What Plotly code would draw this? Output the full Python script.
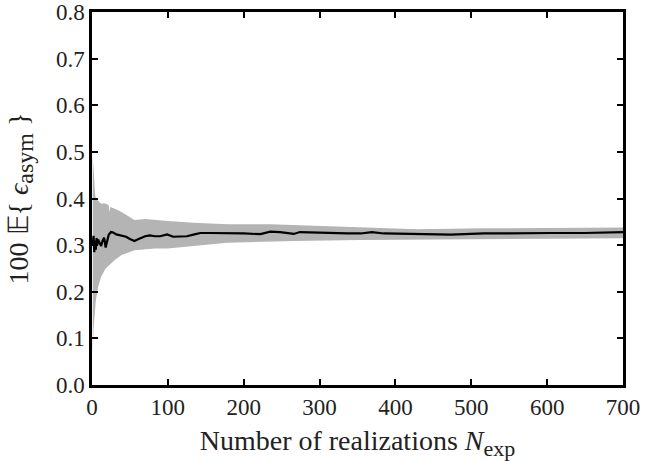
import plotly.graph_objects as go

# Mean curve
n_mean = [1, 2, 3, 4, 5, 6, 7, 8, 10, 12, 14, 16, 18, 20, 22, 25, 28, 32, 38, 45, 50, 56, 60, 65, 70, 76, 83, 90, 99,
          107, 115, 125, 135, 143, 155, 178, 200, 222, 235, 248, 260, 266, 274, 290, 310, 337, 354, 369, 385, 429,
          473, 517, 561, 605, 649, 700]
mean_vals = [0.300, 0.320, 0.285, 0.310, 0.290, 0.315, 0.300, 0.312, 0.305, 0.298, 0.310, 0.316, 0.295, 0.310,
             0.322, 0.328, 0.327, 0.323, 0.321, 0.318, 0.313, 0.309, 0.312, 0.316, 0.319, 0.321, 0.319, 0.319,
             0.323, 0.318, 0.318, 0.319, 0.323, 0.326, 0.326, 0.326, 0.325, 0.3235, 0.329, 0.328, 0.325, 0.324,
             0.328, 0.327, 0.327, 0.325, 0.325, 0.328, 0.325, 0.323, 0.3225, 0.325, 0.326, 0.326, 0.326, 0.328]

# Band (upper / lower limits)
n_upper = [1, 2, 3, 4, 5, 8, 12, 16, 20, 22, 23, 24, 30, 39, 48, 56, 70, 83, 90, 100, 134, 178, 235, 274, 300, 354,
           429, 517, 600, 700]
upper_vals = [0.490, 0.470, 0.440, 0.410, 0.400, 0.395, 0.389, 0.390, 0.388, 0.386, 0.370, 0.382, 0.378, 0.371,
              0.362, 0.354, 0.356, 0.354, 0.352, 0.352, 0.348, 0.345, 0.345, 0.343, 0.342, 0.339, 0.334, 0.336,
              0.337, 0.338]
n_lower = [1, 2, 3, 5, 8, 12, 18, 23, 30, 39, 48, 56, 70, 83, 100, 134, 178, 222, 266, 354, 429, 517, 600, 700]
lower_vals = [0.070, 0.120, 0.150, 0.180, 0.210, 0.232, 0.250, 0.257, 0.268, 0.279, 0.284, 0.289, 0.291, 0.293,
              0.293, 0.298, 0.305, 0.307, 0.309, 0.311, 0.311, 0.313, 0.314, 0.315]

x_ticks = [0, 100, 200, 300, 400, 500, 600, 700]
y_ticks = [0.0, 0.1, 0.2, 0.3, 0.4, 0.5, 0.6, 0.7, 0.8]

fig = go.Figure()
band_x = n_upper + n_lower[::-1]
band_y = upper_vals + lower_vals[::-1]
fig.add_trace(go.Scatter(x=band_x, y=band_y, fill="toself", fillcolor="rgb(180,180,180)",
                         line=dict(width=0), mode="lines", hoverinfo="skip", showlegend=False))
fig.add_trace(go.Scatter(x=n_mean, y=mean_vals, mode="lines", line=dict(color="black", width=2.2),
                         showlegend=False))

font_family = "Liberation Serif"
axis_common = dict(showline=True, linecolor="black", linewidth=2.5, mirror="ticks", ticks="inside",
                   ticklen=6, tickwidth=1.5, tickcolor="black", showgrid=False, zeroline=False,
                   automargin=False,
                   tickfont=dict(family=font_family, size=23, color="#222"))
fig.update_xaxes(range=[0, 700], tickvals=x_ticks, ticktext=[str(v) for v in x_ticks],
                 title=dict(text="Number of realizations <i>N</i><sub><span style='font-size:22px'>exp</span></sub>",
                            font=dict(family=font_family, size=28, color="#222"), standoff=15),
                 **axis_common)
fig.update_yaxes(range=[0, 0.8], tickvals=y_ticks, ticktext=[f"{v:.1f}" for v in y_ticks],
                 title=dict(text="100 𝔼{ <i>ϵ</i><sub><span style='font-size:24px'>asym</span></sub> }",
                            font=dict(family=font_family, size=28, color="#222"), standoff=20),
                 **axis_common)
fig.update_layout(width=645, height=461, margin=dict(l=92, r=22, t=12, b=76),
                  plot_bgcolor="white", paper_bgcolor="white")
fig.write_html("out.html")
